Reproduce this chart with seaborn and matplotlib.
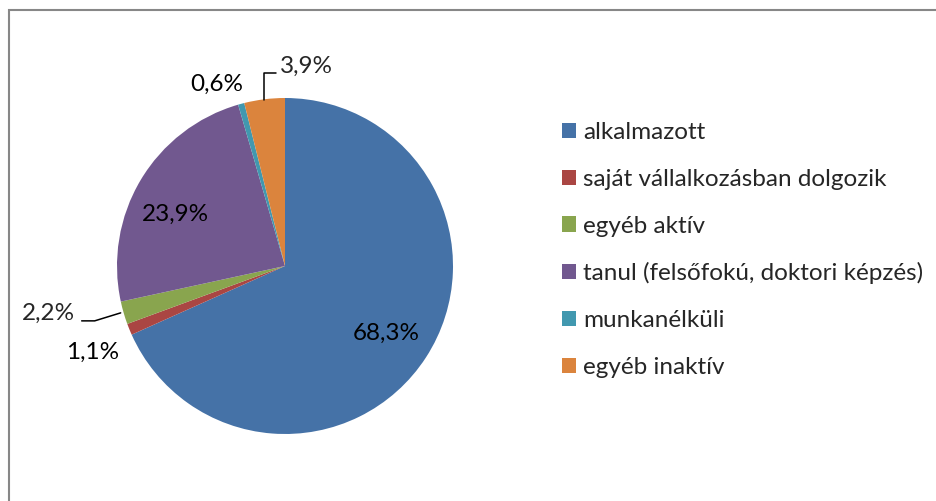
import numpy as np
import matplotlib.pyplot as plt
import seaborn as sns
from matplotlib.patches import Rectangle

# data
categories = [
    "alkalmazott",
    "saját vállalkozásban dolgozik",
    "egyéb aktív",
    "tanul (felsőfokú, doktori képzés)",
    "munkanélküli",
    "egyéb inaktív",
]
shares = [68.3, 1.1, 2.2, 23.9, 0.6, 3.9]
colors = ["#4572A7", "#AA4643", "#89A54E", "#71588F", "#4198AF", "#DB843D"]

sns.set_theme(style="white")
plt.rcParams["font.family"] = ["Lato", "DejaVu Sans"]
palette = sns.color_palette(colors)

W, H = 936, 501
fig = plt.figure(figsize=(W / 100, H / 100), dpi=100)
ax = fig.add_axes([0, 0, 1, 1])

cx, cy, r = 285, H - 266, 168
wedges, _ = ax.pie(
    shares,
    colors=palette,
    startangle=90,
    counterclock=False,
    center=(cx, cy),
    radius=r,
    wedgeprops=dict(linewidth=0),
)
ax.set_xlim(0, W)
ax.set_ylim(0, H)
ax.set_aspect("equal")
ax.axis("off")


def fmt(v):
    return f"{v:.1f}%".replace(".", ",")


def point(w, frac):
    a = np.deg2rad((w.theta1 + w.theta2) / 2)
    return cx + np.cos(a) * r * frac, cy + np.sin(a) * r * frac


fs = 17.5
cap = 8.5  # half the digit height in px, to centre digits on a point

# labels without leader lines: (index, radial fraction, nudge x, nudge y)
for i, frac, nx, ny in [(0, 0.72, 0, 0), (3, 0.73, -4, -9),
                        (1, 1.25, 2, -5), (4, 1.17, -17, -6)]:
    x, y = point(wedges[i], frac)
    ax.text(x + nx, y + ny - cap, fmt(shares[i]),
            ha="center", va="baseline", fontsize=fs, color="black")

# 2,2% with leader line
px, py = point(wedges[2], 1.0)
ax.plot([px - 3, px - 29, px - 42], [py, py - 8, py - 8], color="black", lw=1.1)
ax.text(px - 49, py - 7, fmt(shares[2]), ha="right", va="baseline", fontsize=fs)

# 3,9% with leader line
px, py = point(wedges[5], 1.0)
ax.plot([px, px, px + 12], [py - 1, py + 26, py + 26], color="black", lw=1.1)
ax.text(px + 15, py + 26, fmt(shares[5]), ha="left", va="baseline", fontsize=fs)

# legend
fig.legend(
    wedges, categories,
    loc="center left",
    bbox_to_anchor=(562 / W, 1 - 250 / H),
    frameon=False,
    fontsize=fs,
    handlelength=0.58,
    handleheight=0.58,
    handletextpad=0.3,
    labelspacing=1.06,
    borderpad=0,
    borderaxespad=0,
)

# chart area border (only top and left visible)
fig.patches.append(Rectangle((8.5 / W, -0.2), 1.2, 1.2 - 9.5 / H,
                             transform=fig.transFigure, fill=False,
                             edgecolor="#878787", lw=1.5))

fig.savefig("out.png", dpi=100)
